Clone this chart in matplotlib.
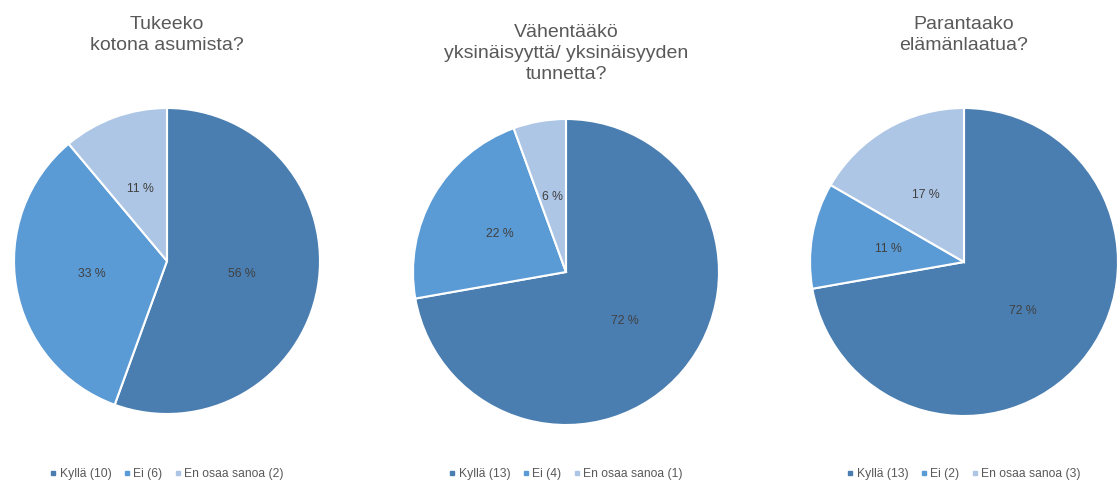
import matplotlib
matplotlib.use("Agg")
import matplotlib.pyplot as plt
from matplotlib.lines import Line2D

plt.rcParams['font.family'] = ['Liberation Sans', 'DejaVu Sans']

categories = ["Kyllä", "Ei", "En osaa sanoa"]
titles = [
    "Tukeeko\nkotona asumista?",
    "Vähentääkö\nyksinäisyyttä/ yksinäisyyden\ntunnetta?",
    "Parantaako\nelämänlaatua?",
]
counts_home = [10, 6, 2]
counts_lonely = [13, 4, 1]
counts_quality = [13, 2, 3]
series = [counts_home, counts_lonely, counts_quality]

colors = ["#4a7eb0", "#5b9bd5", "#adc6e5"]
text_gray = "#595959"
label_gray = "#404040"

W, H = 1117, 483
# pie boxes in pixels: (center x, center y from top, radius), title top y
boxes = [(167, 261, 153, 16), (566, 272, 153, 24), (964, 262, 154, 16)]


def pct_fmt(p):
    return "%d %%" % round(p)


def main():
    fig = plt.figure(figsize=(W / 100, H / 100), dpi=100)
    for vals, title, (cx, cy, r, ty) in zip(series, titles, boxes):
        ax = fig.add_axes([(cx - r) / W, (H - cy - r) / H, 2 * r / W, 2 * r / H])
        wedges, texts, autotexts = ax.pie(
            vals, colors=colors, startangle=90, counterclock=False,
            autopct=pct_fmt, pctdistance=0.5,
            wedgeprops=dict(edgecolor="white", linewidth=1.5),
            textprops=dict(color=label_gray, fontsize=8.8))
        ax.set_xlim(-1, 1)
        ax.set_ylim(-1, 1)
        ax.set_aspect("equal")
        fig.text(cx / W, 1 - ty / H, title, ha="center", va="top",
                 fontsize=14, color=text_gray, linespacing=1.32)

        handles = [Line2D([], [], marker="s", linestyle="", markersize=3.5,
                          color=c) for c in colors]
        labels = ["%s (%d)" % (k, v) for k, v in zip(categories, vals)]
        fig.legend(handles, labels, loc="center", ncol=3,
                   bbox_to_anchor=(cx / W, 1 - 474 / H), frameon=False,
                   fontsize=8.7, labelcolor=text_gray, handlelength=0.5,
                   handletextpad=0.3, columnspacing=1.0)

    fig.savefig("out.png", dpi=100, facecolor="white")


if __name__ == "__main__":
    main()
